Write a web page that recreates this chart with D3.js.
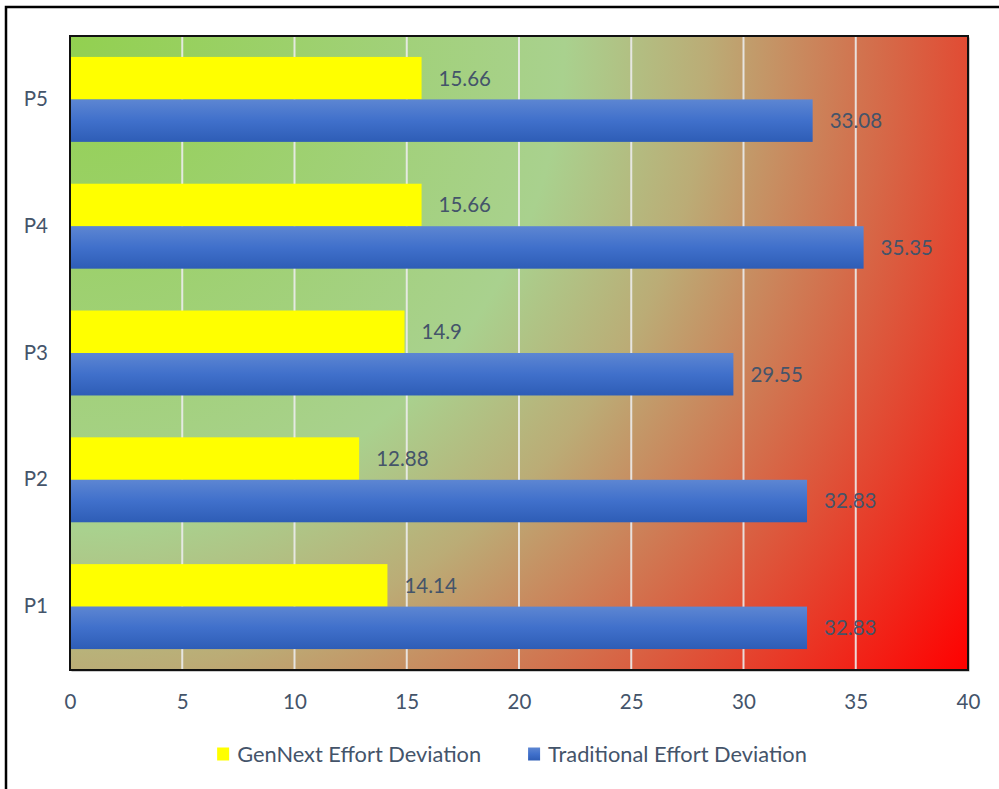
<!DOCTYPE html>
<html>
<head>
<meta charset="utf-8">
<script src="https://cdn.jsdelivr.net/npm/d3@7"></script>
<style>
  html, body { margin: 0; padding: 0; background: #fff; }
  svg { display: block; font-family: Lato, "Noto Sans", sans-serif; }
</style>
</head>
<body>
<svg id="chart" width="999" height="789"></svg>
<script>
// Projects, top to bottom
const projects = ["P5", "P4", "P3", "P2", "P1"];
const seriesNames = ["GenNext Effort Deviation", "Traditional Effort Deviation"];
const genNext = [15.66, 15.66, 14.9, 12.88, 14.14];
const traditional = [33.08, 35.35, 29.55, 32.83, 32.83];
const xTicks = [0, 5, 10, 15, 20, 25, 30, 35, 40];

const textColor = "#44546A";
const fontSize = 20.5;
const legendFontSize = 21.8;

const svg = d3.select("#chart");
const defs = svg.append("defs");

const plot = { left: 70, top: 36, right: 968, bottom: 670 };

const x = d3.scaleLinear().domain([0, 40]).range([plot.left, plot.right]);
const y = d3.scaleBand().domain(projects).range([plot.top, plot.bottom])
  .paddingInner(0.33).paddingOuter(0.165);
const ySub = d3.scaleBand().domain(seriesNames).range([0, y.bandwidth()]);

// Outer chart frame
svg.append("rect")
  .attr("x", 6).attr("y", 7)
  .attr("width", 1100).attr("height", 900)
  .attr("fill", "#fff").attr("stroke", "#000").attr("stroke-width", 2.5);

// Radial background spreading from the top-left corner of the plot
const R = Math.hypot(plot.right - plot.left, plot.bottom - plot.top);
const bg = defs.append("radialGradient")
  .attr("id", "bgGrad").attr("gradientUnits", "userSpaceOnUse")
  .attr("cx", plot.left).attr("cy", plot.top).attr("r", R)
  .attr("fx", plot.left).attr("fy", plot.top);
[[0, "#92D050"], [0.45, "#A9D18E"], [0.58, "#BBAC76"], [1, "#FF0000"]]
  .forEach(([o, c]) => bg.append("stop").attr("offset", o).attr("stop-color", c));

// Blue bar shading
const blue = defs.append("linearGradient")
  .attr("id", "blueGrad").attr("x1", 0).attr("y1", 0).attr("x2", 0).attr("y2", 1);
[[0, "#5D86D2"], [0.5, "#4070CB"], [1, "#2E5DB6"]]
  .forEach(([o, c]) => blue.append("stop").attr("offset", o).attr("stop-color", c));

// Plot shadow + background
svg.append("rect")
  .attr("x", plot.left + 1.5).attr("y", plot.top + 1.5)
  .attr("width", plot.right - plot.left).attr("height", plot.bottom - plot.top)
  .attr("fill", "#9a9a9a");
svg.append("rect")
  .attr("x", plot.left).attr("y", plot.top)
  .attr("width", plot.right - plot.left).attr("height", plot.bottom - plot.top)
  .attr("fill", "url(#bgGrad)");

// Vertical gridlines
svg.append("g").selectAll("line")
  .data(xTicks.filter(t => t > 0 && t < 40))
  .join("line")
  .attr("x1", d => x(d)).attr("x2", d => x(d))
  .attr("y1", plot.top).attr("y2", plot.bottom)
  .attr("stroke", "#ececec").attr("stroke-width", 2).attr("opacity", 0.9);

// Bars
const rows = projects.map((p, i) => ({ p, g: genNext[i], t: traditional[i] }));
const barG = svg.append("g");
rows.forEach(r => {
  const y0 = y(r.p);
  barG.append("rect")
    .attr("x", x(0)).attr("y", y0 + ySub(seriesNames[0]))
    .attr("width", x(r.g) - x(0)).attr("height", ySub.bandwidth())
    .attr("fill", "#FFFF00");
  barG.append("rect")
    .attr("x", x(0)).attr("y", y0 + ySub(seriesNames[1]))
    .attr("width", x(r.t) - x(0)).attr("height", ySub.bandwidth())
    .attr("fill", "url(#blueGrad)");
});

// Value labels
const labelG = svg.append("g")
  .attr("font-size", fontSize).attr("fill", textColor);
rows.forEach(r => {
  const y0 = y(r.p);
  [[seriesNames[0], r.g], [seriesNames[1], r.t]].forEach(([s, v]) => {
    labelG.append("text")
      .attr("x", x(v) + 17)
      .attr("y", y0 + ySub(s) + ySub.bandwidth() / 2)
      .attr("dy", "0.36em")
      .text(v);
  });
});

// Plot border
svg.append("rect")
  .attr("x", plot.left).attr("y", plot.top)
  .attr("width", plot.right - plot.left).attr("height", plot.bottom - plot.top)
  .attr("fill", "none").attr("stroke", "#111").attr("stroke-width", 2);

// Axes
const xAxis = svg.append("g")
  .attr("transform", `translate(0,${plot.bottom})`)
  .call(d3.axisBottom(x).tickValues(xTicks).tickSize(0).tickPadding(24).tickFormat(d3.format("d")));
xAxis.select(".domain").remove();
xAxis.selectAll("text").attr("font-size", fontSize).attr("fill", textColor)
  .attr("font-family", "Lato, 'Noto Sans', sans-serif");

const yAxis = svg.append("g")
  .attr("transform", `translate(${plot.left},0)`)
  .call(d3.axisLeft(y).tickSize(0).tickPadding(22));
yAxis.select(".domain").remove();
yAxis.selectAll("text").attr("font-size", fontSize).attr("fill", textColor)
  .attr("font-family", "Lato, 'Noto Sans', sans-serif");

// Legend
const legend = svg.append("g").attr("font-size", legendFontSize).attr("fill", textColor);
const legendFills = ["#FFFF00", "url(#blueGrad)"];
const items = seriesNames.map((name, i) => {
  const g = legend.append("g");
  g.append("rect").attr("width", 12).attr("height", 13).attr("y", -6.5).attr("fill", legendFills[i]);
  const t = g.append("text").attr("x", 20).attr("dy", "0.36em").text(name);
  return { g, w: 20 + t.node().getComputedTextLength() };
});
const itemGap = 47;
const total = d3.sum(items, d => d.w) + itemGap * (items.length - 1);
let lx = 512 - total / 2;
items.forEach(it => {
  it.g.attr("transform", `translate(${lx},754)`);
  lx += it.w + itemGap;
});
</script>
</body>
</html>
